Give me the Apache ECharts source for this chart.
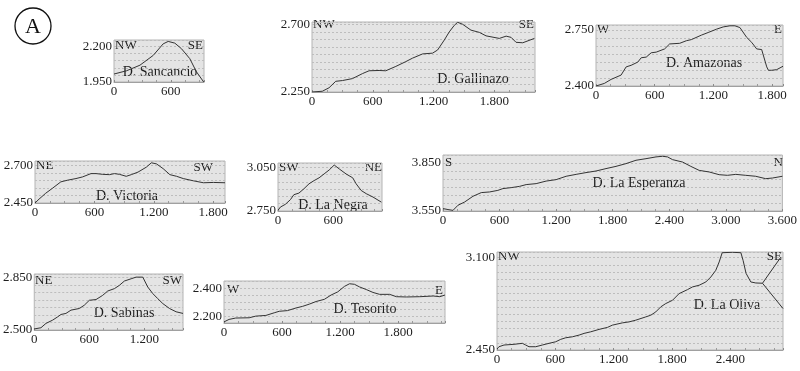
<!DOCTYPE html>
<html><head><meta charset="utf-8">
<script src="https://cdn.jsdelivr.net/npm/echarts/dist/echarts.min.js"></script>
<style>html,body{margin:0;padding:0;background:#fff}#c{width:800px;height:371px}</style>
</head><body><div id="c"></div>
<script>
// ---------- DATA (distance m, elevation m) ----------
const sancancioDist = [0,133,274,414,519,572,642,712,800,870,947];
const sancancioElev = [2006,2029,2068,2137,2218,2235,2223,2184,2114,2022,1950];

const gallinazoDist = [0,102,168,234,300,399,497,563,662,728,827,926,992,1091,1189,1239,1305,1354,1404,1437,1486,1568,1651,1717,1848,1915,1964,2013,2079,2194];
const gallinazoElev = [2250,2255,2278,2321,2326,2339,2372,2391,2393,2391,2420,2452,2475,2503,2508,2529,2595,2649,2693,2713,2700,2661,2646,2623,2606,2621,2613,2580,2577,2606];

const amazonasDist = [0,85,154,256,308,359,427,462,513,564,615,701,752,855,923,974,1077,1145,1231,1299,1368,1419,1470,1539,1590,1641,1692,1744,1761,1795,1846,1910];
const amazonasElev = [2400,2416,2441,2468,2519,2529,2549,2576,2580,2607,2611,2631,2662,2666,2682,2689,2717,2733,2754,2768,2775,2775,2764,2703,2672,2631,2627,2519,2498,2498,2502,2523];

const victoriaDist = [0,41,108,176,261,329,414,481,566,617,685,753,803,854,922,973,1041,1125,1176,1227,1295,1363,1431,1498,1600,1702,1803,1920];
const victoriaElev = [2450,2476,2515,2548,2591,2602,2613,2624,2646,2646,2641,2639,2646,2641,2628,2639,2656,2689,2718,2711,2679,2639,2628,2613,2598,2585,2587,2585];

const laNegraDist = [0,26,80,135,172,227,282,337,392,446,501,556,611,666,739,812,849,904,959,1032,1123];
const laNegraElev = [2755,2777,2796,2828,2862,2873,2903,2937,2959,2978,3005,3032,3066,3039,3005,2978,2937,2891,2869,2846,2811];

const esperanzaDist = [0,53,106,159,229,318,406,494,582,635,723,812,882,988,1094,1200,1306,1412,1517,1623,1729,1835,1941,2047,2153,2259,2329,2382,2435,2541,2629,2717,2823,2929,3017,3106,3211,3317,3423,3494,3600];
const esperanzaElev = [3565,3559,3554,3586,3606,3642,3665,3669,3679,3690,3696,3704,3715,3721,3737,3746,3767,3779,3790,3800,3815,3829,3846,3867,3877,3888,3892,3888,3871,3856,3829,3804,3794,3777,3773,3779,3773,3767,3752,3756,3767];

const sabinasDist = [0,73,127,200,255,291,345,400,491,545,600,673,745,800,873,927,982,1055,1109,1182,1236,1291,1345,1400,1473,1545,1620];
const sabinasElev = [2507,2515,2544,2566,2588,2604,2611,2633,2644,2666,2699,2704,2732,2761,2777,2799,2828,2843,2854,2854,2788,2744,2710,2677,2644,2622,2611];

const tesoritoDist = [0,52,121,260,329,433,519,571,657,744,813,882,952,1038,1107,1176,1246,1298,1349,1401,1471,1540,1609,1713,1782,1886,2024,2163,2232,2284];
const tesoritoElev = [2158,2176,2186,2188,2200,2205,2224,2235,2240,2259,2271,2287,2306,2322,2353,2376,2416,2435,2431,2412,2393,2372,2358,2358,2341,2339,2341,2346,2341,2353];

const laOlivaDist = [0,20,72,175,261,295,329,398,466,535,604,655,706,775,844,895,963,1049,1135,1186,1289,1358,1426,1529,1581,1632,1684,1735,1804,1872,1958,2009,2078,2147,2198,2249,2284,2315,2420,2507,2530,2560,2609,2660,2729];
const laOlivaElev = [2457,2473,2485,2490,2497,2485,2473,2473,2485,2497,2508,2525,2536,2543,2555,2567,2578,2595,2609,2625,2641,2648,2660,2683,2695,2718,2754,2777,2800,2847,2875,2894,2906,2929,2964,3011,3070,3135,3138,3135,3080,2990,2929,2922,2920];
const laOlivaUpDist = [2729,2918];
const laOlivaUpElev = [2920,3104];
const laOlivaDownDist = [2729,2940];
const laOlivaDownElev = [2920,2742];

// axis extents and labelled values
const names = ['D. Sancancio','D. Gallinazo','D. Amazonas','D. Victoria','D. La Negra','D. La Esperanza','D. Sabinas','D. Tesorito','D. La Oliva'];
const dirStart = ['NW','NW','W','NE','SW','S','NE','W','NW'];
const dirEnd = ['SE','SE','E','SW','NE','N','SW','E','SE'];
const xMaxes = [950,2200,1910,1920,1130,3600,1620,2285,2940];
const yMins = [1950,2250,2400,2450,2750,3550,2500,2150,2450];
const yMaxes = [2245,2715,2780,2730,3080,3900,2875,2455,3140];
const yLabelLow = [1950,2250,2400,2450,2750,3550,2500,2200,2450];
const yLabelHigh = [2200,2700,2750,2700,3050,3850,2850,2400,3100];

// ---------- LAYOUT ----------
const layouts = [
  {left:114, top:40, width:90, height:42},
  {left:312, top:22, width:223, height:70},
  {left:596, top:25, width:187, height:61},
  {left:35, top:161, width:190, height:42},
  {left:278, top:163, width:104, height:48},
  {left:443, top:155, width:340, height:56},
  {left:34, top:274, width:149, height:56},
  {left:224, top:281, width:221, height:42},
  {left:497, top:252, width:286, height:98}
];
// text anchor positions: [startX, startY, endX, endY, nameX, nameY]
const textPos = [
  [115,46,203,46,160,72],
  [313,25,534,25,473,79],
  [597,30,782,30,704,63],
  [36,166,213,168,127,196],
  [279,168,382,168,333,205],
  [445,163,783,163,639,183],
  [35,281,182,281,124,313],
  [227,290,443,291,365,309],
  [498,257,782,257,727,305]
];

const seriesData = [
  [[sancancioDist,sancancioElev]],
  [[gallinazoDist,gallinazoElev]],
  [[amazonasDist,amazonasElev]],
  [[victoriaDist,victoriaElev]],
  [[laNegraDist,laNegraElev]],
  [[esperanzaDist,esperanzaElev]],
  [[sabinasDist,sabinasElev]],
  [[tesoritoDist,tesoritoElev]],
  [[laOlivaDist,laOlivaElev],[laOlivaUpDist,laOlivaUpElev],[laOlivaDownDist,laOlivaDownElev]]
];

function fmt(v){
  if (v >= 1000) return Math.floor(v/1000) + '.' + String(v % 1000).padStart(3,'0');
  return String(v);
}
const FONT = '"Liberation Serif","Times New Roman",serif';

const grids=[], xAxes=[], yAxes=[], series=[], graphics=[];
layouts.forEach((L,i)=>{
  grids.push({left:L.left, top:L.top, width:L.width, height:L.height, show:true,
    backgroundColor:'#e4e4e4', borderColor:'#b4b4b4', borderWidth:1, containLabel:false});
  xAxes.push({type:'value', gridIndex:i, min:0, max:xMaxes[i], interval:600,
    axisLine:{show:true, lineStyle:{color:'#a0a0a0'}},
    axisTick:{show:true, inside:true, length:2, lineStyle:{color:'#8a8a8a'}},
    minorTick:{show:true, splitNumber:4, length:2, lineStyle:{color:'#9a9a9a'}},
    splitLine:{show:false},
    axisLabel:{margin:3, color:'#1e1e1e', fontFamily:FONT, fontSize:13,
      formatter:(v)=> (v % 600 === 0 ? fmt(v) : '')}
  });
  const lo = yLabelLow[i], hi = yLabelHigh[i];
  yAxes.push({type:'value', gridIndex:i, min:yMins[i], max:yMaxes[i], interval:50,
    axisLine:{show:false}, axisTick:{show:false},
    splitLine:{show:true, lineStyle:{color:'#bdbdbd', type:[2,2], width:1}},
    axisLabel:{margin:2, color:'#1e1e1e', fontFamily:FONT, fontSize:13,
      formatter:(v)=> (v === lo || v === hi ? fmt(v) : '')}
  });
  seriesData[i].forEach(([d,e])=>{
    series.push({type:'line', xAxisIndex:i, yAxisIndex:i, showSymbol:false, silent:true,
      lineStyle:{color:'#333333', width:1}, data:d.map((x,k)=>[x,e[k]])});
  });
  const t = textPos[i];
  const st = {font:'13px '+FONT, fill:'#1e1e1e', textVerticalAlign:'middle'};
  graphics.push({type:'text', x:t[0], y:t[1], style:Object.assign({text:dirStart[i], textAlign:'left'}, st)});
  graphics.push({type:'text', x:t[2], y:t[3], style:Object.assign({text:dirEnd[i], textAlign:'right'}, st)});
  graphics.push({type:'text', x:t[4], y:t[5], style:{text:names[i], textAlign:'center', textVerticalAlign:'middle', font:'14px '+FONT, fill:'#1e1e1e'}});
});
graphics.push({type:'circle', shape:{cx:33, cy:26, r:18}, style:{fill:'none', stroke:'#111', lineWidth:1.3}});
graphics.push({type:'text', x:33, y:27, style:{text:'A', textAlign:'center', textVerticalAlign:'middle', font:'22px '+FONT, fill:'#111'}});

const chart = echarts.init(document.getElementById('c'), null, {renderer:'canvas'});
chart.setOption({animation:false, grid:grids, xAxis:xAxes, yAxis:yAxes, series:series, graphic:graphics});
</script></body></html>
